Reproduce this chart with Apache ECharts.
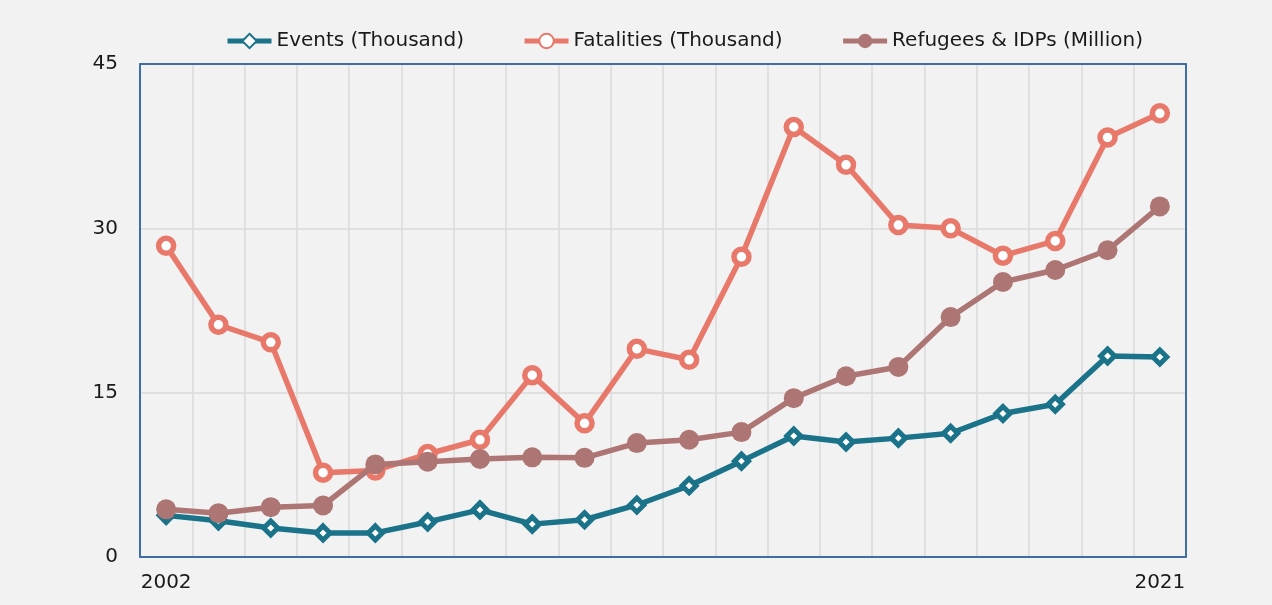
<!DOCTYPE html>
<html>
<head>
<meta charset="utf-8">
<script src="https://cdn.jsdelivr.net/npm/echarts@6/dist/echarts.min.js"></script>
<style>
  html, body { margin: 0; padding: 0; background: #f2f2f2; }
  #chart { width: 1272px; height: 605px; }
</style>
</head>
<body>
<div id="chart"></div>
<script>
// years on the x axis
const years = ['2002', '2003', '2004', '2005', '2006', '2007', '2008', '2009', '2010', '2011',
               '2012', '2013', '2014', '2015', '2016', '2017', '2018', '2019', '2020', '2021'];
// values
const events = [3.8, 3.3, 2.65, 2.2, 2.2, 3.2, 4.3, 3.0, 3.4, 4.75,
                6.5, 8.75, 11.05, 10.5, 10.85, 11.3, 13.1, 13.95, 18.35, 18.25];
const fatalities = [28.4, 21.2, 19.6, 7.7, 7.9, 9.4, 10.7, 16.6, 12.2, 19.0,
                    18.0, 27.4, 39.25, 35.8, 30.3, 30.0, 27.5, 28.85, 38.3, 40.5];
const refugees = [4.35, 4.0, 4.55, 4.7, 8.45, 8.7, 8.95, 9.1, 9.05, 10.4,
                  10.7, 11.4, 14.5, 16.5, 17.35, 21.9, 25.1, 26.2, 28.0, 32.0];
const yTicks = { min: 0, max: 45, interval: 15 };

const font = '"DejaVu Sans", "Open Sans", sans-serif';
const teal = '#1a7389', salmon = '#e8786a', mauve = '#ad7674';
const frame = '#3f6ea6';

const chart = echarts.init(document.getElementById('chart'));
chart.setOption({
    backgroundColor: '#f2f2f2',
    animation: false,
    color: [teal, salmon, mauve],
    legend: {
        top: 26,
        left: 220,
        itemWidth: 44,
        itemHeight: 18,
        itemGap: 58,
        lineStyle: { width: 5 },
        textStyle: { fontFamily: font, fontSize: 20, color: '#1a1a1a' },
        data: ['Events (Thousand)', 'Fatalities (Thousand)', 'Refugees & IDPs (Million)']
    },
    grid: {
        left: 140,
        right: 86,
        top: 64,
        bottom: 48,
        show: false
    },
    xAxis: [
        {
            type: 'category',
            data: years,
            boundaryGap: true,
            axisLine: { show: true, lineStyle: { color: frame, width: 2 } },
            axisTick: { show: false },
            splitLine: { show: true, interval: 0, lineStyle: { color: '#dadada', width: 1.5 } },
            axisLabel: {
                interval: (idx) => idx === 0 || idx === years.length - 1,
                margin: 16,
                fontFamily: font,
                fontSize: 20,
                color: '#1a1a1a'
            }
        },
        {
            // top edge of the frame
            type: 'category',
            data: years,
            position: 'top',
            z: 5,
            axisLine: { show: true, onZero: false, lineStyle: { color: frame, width: 2 } },
            axisTick: { show: false },
            axisLabel: { show: false },
            splitLine: { show: false }
        }
    ],
    yAxis: [
        {
            type: 'value',
            min: yTicks.min,
            max: yTicks.max,
            interval: yTicks.interval,
            axisLine: { show: true, lineStyle: { color: frame, width: 2 } },
            axisTick: { show: false },
            splitLine: { show: true, showMaxLine: false, lineStyle: { color: '#dadada', width: 1.5 } },
            axisLabel: { margin: 22, fontFamily: font, fontSize: 20, color: '#1a1a1a' }
        },
        {
            // right edge of the frame
            type: 'value',
            position: 'right',
            min: yTicks.min,
            max: yTicks.max,
            interval: yTicks.interval,
            z: 5,
            axisLine: { show: true, onZero: false, lineStyle: { color: frame, width: 2 } },
            axisTick: { show: false },
            axisLabel: { show: false },
            splitLine: { show: false }
        }
    ],
    series: [
        {
            name: 'Events (Thousand)',
            type: 'line',
            data: events,
            symbol: 'diamond',
            symbolSize: 14,
            lineStyle: { width: 5.5, color: teal },
            itemStyle: { color: '#ffffff', borderColor: teal, borderWidth: 5 },
            z: 3
        },
        {
            name: 'Fatalities (Thousand)',
            type: 'line',
            data: fatalities,
            symbol: 'circle',
            symbolSize: 15,
            lineStyle: { width: 5.5, color: salmon },
            itemStyle: { color: '#ffffff', borderColor: salmon, borderWidth: 5.5 },
            z: 2
        },
        {
            name: 'Refugees & IDPs (Million)',
            type: 'line',
            data: refugees,
            symbol: 'circle',
            symbolSize: 20,
            lineStyle: { width: 5.5, color: mauve },
            itemStyle: { color: mauve },
            z: 4
        }
    ]
});
</script>
</body>
</html>
